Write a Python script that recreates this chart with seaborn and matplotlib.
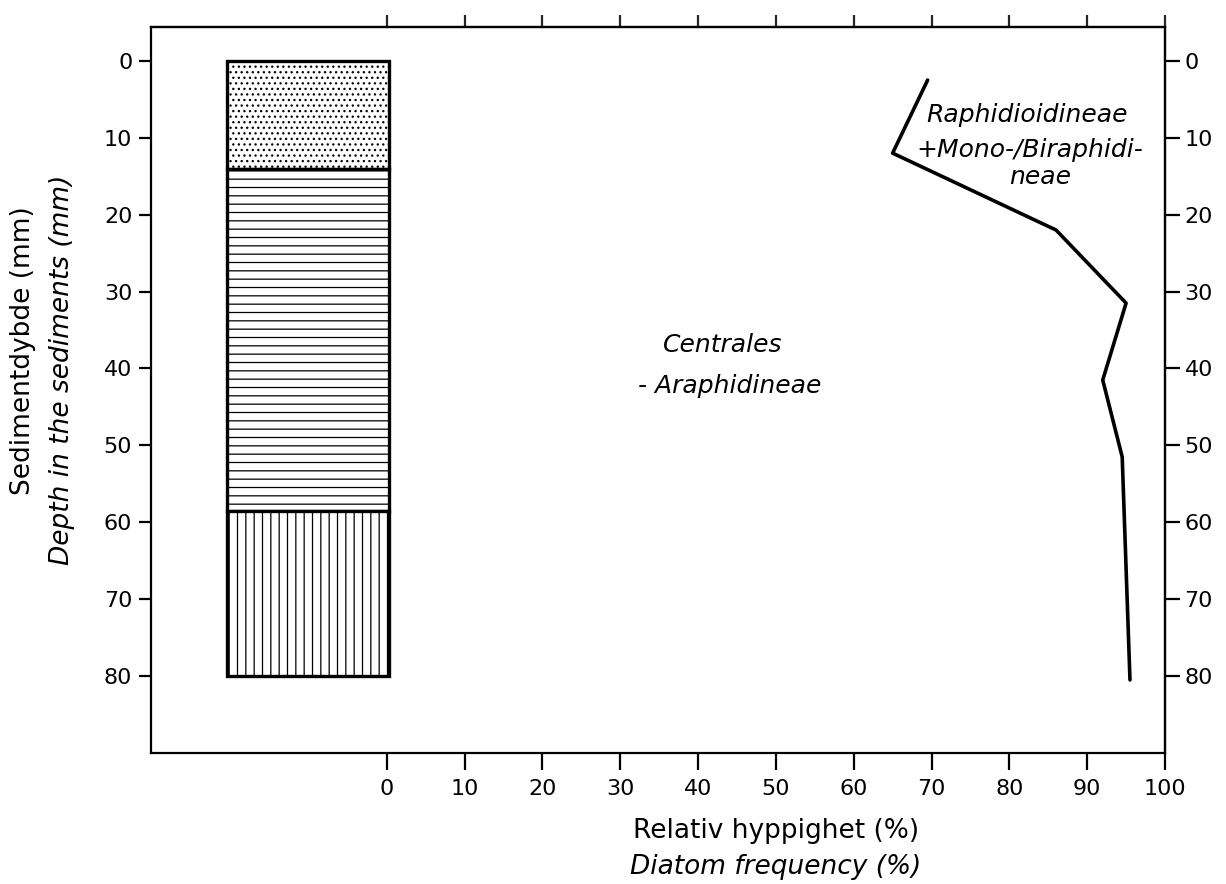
import matplotlib
matplotlib.use("Agg")
import matplotlib.pyplot as plt
import matplotlib.transforms as mtransforms
import seaborn as sns
import numpy as np
import pandas as pd

# boundary line between the two diatom groups
depth_mm = [2.5, 12, 22, 31.5, 41.5, 51.5, 80.5]
freq_pct = [69.5, 65, 86, 95, 92, 94.5, 95.5]

# sediment column layers (mm)
layer_top = [0, 14, 58.5]
layer_bottom = [14, 58.5, 80]
layer_hatch = ['...', '--', '||']
column_left, column_right = -20.5, 0.3

x_ticks = list(range(0, 101, 10))
y_ticks = list(range(0, 81, 10))

sns.set_theme(style="ticks")
plt.rcParams['font.family'] = ['DejaVu Sans']
plt.rcParams['hatch.linewidth'] = 0.9
plt.rcParams['axes.linewidth'] = 1.6

fig = plt.figure(figsize=(12.26, 8.84), dpi=100)
ax = fig.add_axes([151 / 1226, 1 - 753 / 884, (1165 - 151) / 1226, (753 - 27) / 884])

for top, bot, h in zip(layer_top, layer_bottom, layer_hatch):
    ax.barh(y=(top + bot) / 2, width=column_right - column_left, left=column_left,
            height=bot - top, facecolor='white', edgecolor='black', hatch=h,
            linewidth=2.4, zorder=2)

df = pd.DataFrame({'freq': freq_pct, 'depth': depth_mm})
sns.lineplot(data=df, x='freq', y='depth', sort=False, estimator=None,
             color='black', linewidth=2.6, ax=ax, zorder=3)

ax.set_xlim(-30.3, 100)
ax.set_ylim(90, -4.4)
ax.set_xticks(x_ticks)
ax.set_yticks(y_ticks)
ax.set_xlabel('')
ax.set_ylabel('')
for s in ax.spines.values():
    s.set_visible(True)
    s.set_color('black')

ax.tick_params(axis='x', direction='out', length=12, width=1.6, pad=7,
               labelsize=16, colors='black')
ax.tick_params(axis='y', direction='out', length=8.5, width=1.6, pad=5,
               labelsize=16, colors='black')

top = ax.secondary_xaxis('top')
top.set_xticks(x_ticks)
top.tick_params(direction='out', length=8.5, width=1.6, labeltop=False)
right = ax.secondary_yaxis('right')
right.set_yticks(y_ticks)
right.tick_params(direction='out', length=11, width=1.6, pad=3,
                  labelsize=16, colors='black')

ital = dict(fontstyle='italic', fontsize=18, color='black')
ax.text(43.2, 37.0, 'Centrales', ha='center', va='center', **ital)
ax.text(44.1, 42.3, '- Araphidineae', ha='center', va='center', **ital)
ax.text(82.3, 7.0, 'Raphidioidineae', ha='center', va='center', **ital)
ax.text(82.6, 11.6, '+Mono-/Biraphidi-', ha='center', va='center', **ital)
ax.text(83.9, 15.1, 'neae', ha='center', va='center', **ital)

trans = mtransforms.blended_transform_factory(ax.transData, fig.transFigure)
ax.text(50, 1 - 831 / 884, 'Relativ hyppighet (%)', transform=trans,
        ha='center', va='center', fontsize=19, color='black')
ax.text(50, 1 - 867 / 884, 'Diatom frequency (%)', transform=trans,
        ha='center', va='center', fontsize=19, fontstyle='italic', color='black')

fig.text(23 / 1226, 1 - 351 / 884, 'Sedimentdybde (mm)', rotation=90,
         ha='center', va='center', fontsize=19, color='black')
fig.text(62 / 1226, 1 - 370 / 884, 'Depth in the sediments (mm)', rotation=90,
         ha='center', va='center', fontsize=19, fontstyle='italic', color='black')

fig.savefig('out.png', dpi=100, facecolor='white')
